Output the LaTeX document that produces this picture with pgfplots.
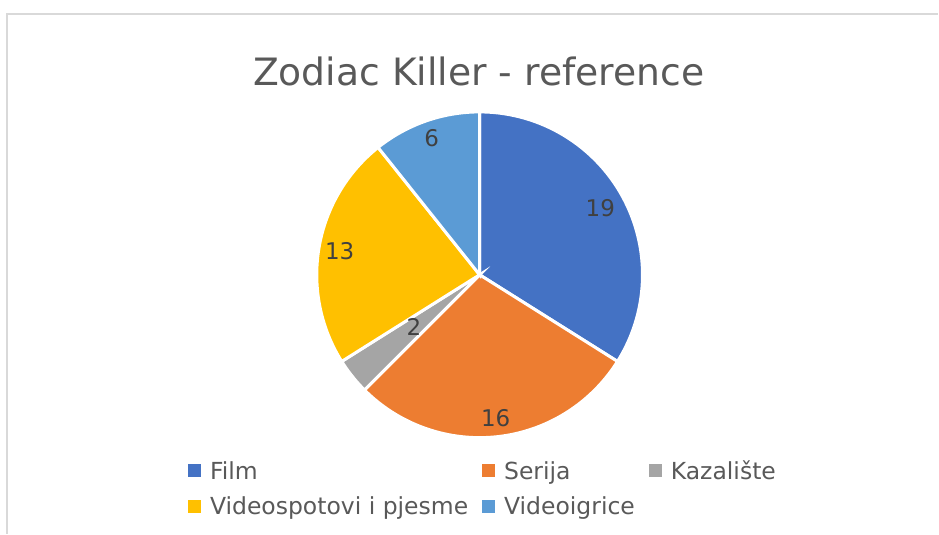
\documentclass[border=0pt]{standalone}
\usepackage{pgfplots}
\pgfplotsset{compat=1.18}
\usepackage{fontspec}
\setmainfont{DejaVu Sans}
\definecolor{cFilm}{HTML}{4472C4}
\definecolor{cSerija}{HTML}{ED7D31}
\definecolor{cKaz}{HTML}{A5A5A5}
\definecolor{cVid}{HTML}{FFC000}
\definecolor{cIgr}{HTML}{5B9BD5}
\definecolor{titlegray}{HTML}{595959}
\definecolor{labelgray}{HTML}{404040}
\definecolor{bordergray}{HTML}{D9D9D9}
% data values
\def\vA{19}\def\vB{16}\def\vC{2}\def\vD{13}\def\vE{6}
\pgfmathsetmacro\tot{\vA+\vB+\vC+\vD+\vE}
\pgfmathsetmacro\aO{90}
\pgfmathsetmacro\aA{\aO-360*\vA/\tot}
\pgfmathsetmacro\aB{\aA-360*\vB/\tot}
\pgfmathsetmacro\aC{\aB-360*\vC/\tot}
\pgfmathsetmacro\aD{\aC-360*\vD/\tot}
\pgfmathsetmacro\aE{\aD-360*\vE/\tot}
\def\cx{480}\def\cy{259}\def\R{163}
\begin{document}
\begin{tikzpicture}
\begin{axis}[
  scale only axis, width=939bp, height=534bp,
  xmin=0, xmax=939, ymin=0, ymax=534,
  hide axis, clip=false,
  legend columns=3,
  legend style={draw=none, fill=none, at={(axis cs:185,77)}, anchor=north west,
    font=\fontsize{23.5bp}{28bp}\selectfont, text=titlegray,
    row sep=12bp,
    /tikz/every odd column/.append style={column sep=7bp},
    /tikz/every even column/.append style={column sep=12bp},
    cells={anchor=west}},
  legend image code/.code={\fill[#1, draw=none] (0bp,-6.5bp) rectangle (13bp,6.5bp);},
]
\path (axis cs:0,0) rectangle (axis cs:939,534);
\addplot[fill=cFilm, draw=white, line width=3bp, domain=\aA:\aO, samples=80, variable=\t]
  ({\cx+\R*cos(\t)},{\cy+\R*sin(\t)}) -- (axis cs:\cx,\cy) -- cycle;
\addlegendentry{Film}
\addplot[fill=cSerija, draw=white, line width=3bp, domain=\aB:\aA, samples=80, variable=\t]
  ({\cx+\R*cos(\t)},{\cy+\R*sin(\t)}) -- (axis cs:\cx,\cy) -- cycle;
\addlegendentry{Serija}
\addplot[fill=cKaz, draw=white, line width=3bp, domain=\aC:\aB, samples=20, variable=\t]
  ({\cx+\R*cos(\t)},{\cy+\R*sin(\t)}) -- (axis cs:\cx,\cy) -- cycle;
\addlegendentry{Kazalište}
\addplot[fill=cVid, draw=white, line width=3bp, domain=\aD:\aC, samples=60, variable=\t]
  ({\cx+\R*cos(\t)},{\cy+\R*sin(\t)}) -- (axis cs:\cx,\cy) -- cycle;
\addlegendentry{Videospotovi i pjesme}
\addplot[fill=cIgr, draw=white, line width=3bp, domain=\aE:\aD, samples=40, variable=\t]
  ({\cx+\R*cos(\t)},{\cy+\R*sin(\t)}) -- (axis cs:\cx,\cy) -- cycle;
\addlegendentry{Videoigrice}
% data labels
\tikzset{dl/.style={text=labelgray, font=\fontsize{23bp}{26bp}\selectfont, inner sep=0pt}}
\node[dl] at (axis cs:{\cx+138*cos((\aO+\aA)/2)},{\cy+138*sin((\aO+\aA)/2)}) {\vA};
\node[dl] at (axis cs:{\cx+144*cos((\aA+\aB)/2)},{\cy+144*sin((\aA+\aB)/2)}) {\vB};
\node[dl] at (axis cs:{\cx+84*cos((\aB+\aC)/2)},{\cy+84*sin((\aB+\aC)/2)}) {\vC};
\node[dl] at (axis cs:{\cx+142*cos((\aC+\aD)/2)},{\cy+142*sin((\aC+\aD)/2)}) {\vD};
\node[dl] at (axis cs:{\cx+145*cos((\aD+\aE)/2)},{\cy+145*sin((\aD+\aE)/2)}) {\vE};
% title
\node[anchor=base, text=titlegray, font=\fontsize{37.7bp}{42bp}\selectfont, inner sep=0pt]
  at (axis cs:479,448) {Zodiac Killer - reference};
% chart border
\draw[bordergray, line width=1.5bp] (axis cs:7,0) -- (axis cs:7,520) -- (axis cs:939,520);
\end{axis}
\end{tikzpicture}
\end{document}
